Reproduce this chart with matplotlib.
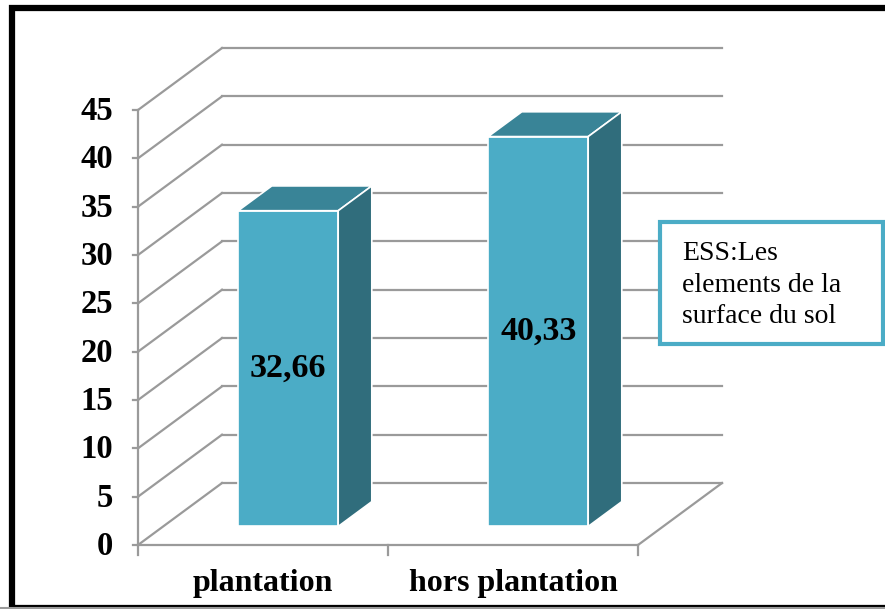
import numpy as np
import matplotlib
matplotlib.use('Agg')
import matplotlib.pyplot as plt
from matplotlib.patches import Polygon, Rectangle

# Data
categories = ['plantation', 'hors plantation']
values = [32.66, 40.33]
value_labels = ['32,66', '40,33']
y_ticks = [0, 5, 10, 15, 20, 25, 30, 35, 40, 45]
note_text = 'ESS:Les\nelements de la\nsurface du sol'

FRONT = '#4BACC6'
TOP = '#398497'
SIDE = '#306D7C'
GRID = '#9A9A9A'

# 3D look: depth offset of the back wall, in data units
DX, DY = 0.336, 6.41


def proj(x, y, d):
    '''Shift a point (x, value) back by depth fraction d.'''
    return x + DX * d, y + DY * d


def main():
    plt.rcParams['font.family'] = ['Liberation Serif', 'DejaVu Serif']
    fig = plt.figure(figsize=(8.85, 6.09), dpi=100)
    ax = fig.add_axes([0, 0, 1, 1])
    ax.set_xlim(-0.552, 2.988)
    ax.set_ylim(-6.62, 56.38)
    ax.axis('off')

    n = len(categories)
    ymax = y_ticks[-1]

    # back wall gridlines and left wall diagonals
    for v in y_ticks:
        x0, y0 = proj(0, v, 1)
        x1, y1 = proj(n, v, 1)
        ax.plot([x0, x1], [y0, y1], color=GRID, lw=1.6, zorder=1)
        ax.plot([0, x0], [v, y0], color=GRID, lw=1.6, zorder=1)

    # floor front and right edges, y axis line
    ax.plot([0, n], [0, 0], color=GRID, lw=1.6, zorder=1)
    xr, yr = proj(n, 0, 1)
    ax.plot([n, xr], [0, yr], color=GRID, lw=1.6, zorder=1)
    ax.plot([0, 0], [0, ymax], color=GRID, lw=1.6, zorder=1)

    # y ticks and labels
    for v in y_ticks:
        ax.plot([-0.022, 0], [v, v], color=GRID, lw=1.6, zorder=1)
        ax.text(-0.1, v - 0.15, str(v), ha='right', va='center',
                fontsize=23.5, fontweight='bold')

    # category ticks and labels
    for i in range(n + 1):
        ax.plot([i, i], [0, -1.0], color=GRID, lw=1.6, zorder=1)
    for i, cat in enumerate(categories):
        ax.text(i + 0.5, -4.0, cat, ha='center', va='center',
                fontsize=23, fontweight='bold')

    # bars
    d0, d1 = 0.3, 0.7
    for i, (v, lab) in enumerate(zip(values, value_labels)):
        xa, xb = i + 0.3, i + 0.7
        fa = proj(xa, 0, d0)
        fb = proj(xb, v, d0)
        ax.add_patch(Rectangle(fa, fb[0] - fa[0], v, facecolor=FRONT,
                               edgecolor='white', lw=1.2, zorder=3))
        top = [proj(xa, v, d0), proj(xb, v, d0), proj(xb, v, d1), proj(xa, v, d1)]
        ax.add_patch(Polygon(top, closed=True, facecolor=TOP,
                             edgecolor='white', lw=1.2, zorder=3))
        side = [proj(xb, 0, d0), proj(xb, v, d0), proj(xb, v, d1), proj(xb, 0, d1)]
        ax.add_patch(Polygon(side, closed=True, facecolor=SIDE,
                             edgecolor='white', lw=1.2, zorder=3))
        cx = (fa[0] + fb[0]) / 2
        cy = fa[1] + v / 2
        ax.text(cx, cy, lab, ha='center', va='center',
                fontsize=24.5, fontweight='bold', zorder=4)

    # note box
    fig.patches.append(Rectangle((660 / 885, 1 - 344 / 609), 223 / 885, 122 / 609,
                                 transform=fig.transFigure, facecolor='white',
                                 edgecolor=FRONT, lw=3, zorder=5))
    fig.text(682 / 885, 1 - 285 / 609, note_text, ha='left', va='center',
             fontsize=20, linespacing=1.33, zorder=6)

    # outer frame
    fig.patches.append(Rectangle((12 / 885, 1 - 607.5 / 609), 880 / 885, 600 / 609,
                                 transform=fig.transFigure, facecolor='none',
                                 edgecolor='black', lw=4.5, zorder=0))
    fig.lines.append(plt.Line2D([0, 1], [1 - 607.5 / 609] * 2,
                                transform=fig.transFigure, color=GRID, lw=1.5))

    fig.savefig('out.png', dpi=100)


if __name__ == '__main__':
    main()
